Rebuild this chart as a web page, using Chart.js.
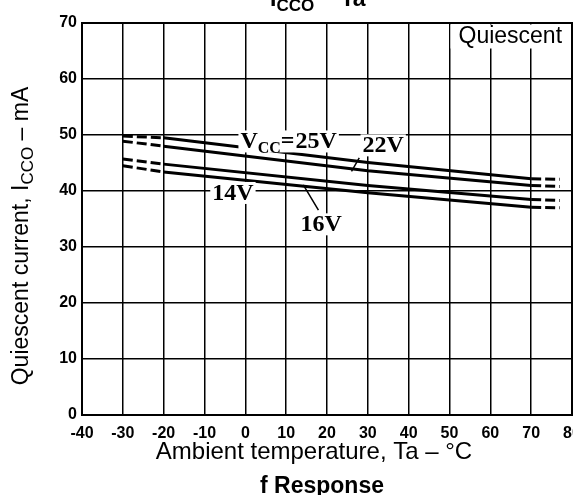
<!DOCTYPE html>
<html>
<head>
<meta charset="utf-8">
<script src="https://cdn.jsdelivr.net/npm/chart.js@4.4.1/dist/chart.umd.min.js"></script>
<style>
  html, body { margin: 0; padding: 0; background: #fff; }
  #wrap { width: 573px; height: 495px; }
</style>
</head>
<body>
<div id="wrap"><canvas id="grafikas" width="573" height="495"></canvas></div>
<script>
// values (Ta in °C, Icco in mA)
var temps = [-30, -20, 30, 70, 77];
var vcc25 = [49.8, 49.5, 45.1, 42.2, 42.1];
var vcc22 = [48.9, 48.0, 43.6, 41.0, 40.8];
var vcc16 = [45.7, 44.8, 41.0, 38.5, 38.3];
var vcc14 = [44.5, 43.4, 39.7, 37.1, 37.0];

var xTicks = [-40, -30, -20, -10, 0, 10, 20, 30, 40, 50, 60, 70, 80];
var yTicks = [0, 10, 20, 30, 40, 50, 60, 70];

function toPoints(values) {
    return values.map(function(v, i) { return { x: temps[i], y: v }; });
}

function serie(values) {
    return {
        data: toPoints(values),
        borderColor: '#000',
        borderWidth: 3,
        pointRadius: 0,
        tension: 0,
        fill: false,
        segment: {
            borderDash: function(c) {
                return (c.p0.parsed.x < -20 || c.p1.parsed.x > 70) ? [10, 4] : undefined;
            }
        }
    };
}

// draws text pieces in a row, some of them as subscripts
function drawParts(ctx, parts, x, y) {
    parts.forEach(function(p) {
        ctx.font = p.font;
        ctx.fillText(p.t, x, y + (p.dy || 0));
        x += ctx.measureText(p.t).width + (p.gap || 0);
    });
}

function partsWidth(ctx, parts) {
    var w = 0;
    parts.forEach(function(p) {
        ctx.font = p.font;
        w += ctx.measureText(p.t).width + (p.gap || 0);
    });
    return w;
}

var extras = {
    id: 'extras',
    beforeDatasetsDraw: function(chart) {
        var ctx = chart.ctx, a = chart.chartArea;
        var xs = chart.scales.x;
        ctx.save();
        // "Quiescent" box
        var bx = xs.getPixelForValue(50) + 1;
        ctx.fillStyle = '#fff';
        ctx.fillRect(bx, a.top + 1.5, a.right - bx - 1, 24);
        ctx.fillStyle = '#000';
        ctx.font = '23px "Liberation Sans", Arial, sans-serif';
        ctx.textBaseline = 'alphabetic';
        ctx.textAlign = 'left';
        ctx.fillText('Quiescent', bx + 8, a.top + 20);
        ctx.restore();
    },
    afterDraw: function(chart) {
        var ctx = chart.ctx, a = chart.chartArea;
        var xs = chart.scales.x, ys = chart.scales.y;
        function px(v) { return xs.getPixelForValue(v); }
        function py(v) { return ys.getPixelForValue(v); }
        ctx.save();

        // frame
        ctx.strokeStyle = '#000';
        ctx.lineWidth = 2;
        ctx.strokeRect(a.left, a.top, a.right - a.left, a.bottom - a.top);

        // curve labels
        var big = 'bold 24px "Liberation Serif", "Times New Roman", serif';
        var sub = 'bold 16px "Liberation Serif", "Times New Roman", serif';
        ctx.textBaseline = 'alphabetic';
        ctx.textAlign = 'left';
        var labels = [
            { x: -1.2, y: 47.6, parts: [{ t: 'V', font: big }, { t: 'CC', font: sub, dy: 5 }, { t: '=', font: big, gap: 1 }, { t: '25V', font: big }] },
            { x: 28.7, y: 46.9, parts: [{ t: '22V', font: big }] },
            { x: -8.1, y: 38.4, parts: [{ t: '14V', font: big }] },
            { x: 13.5, y: 32.8, parts: [{ t: '16V', font: big }] }
        ];
        labels.forEach(function(l) {
            var w = partsWidth(ctx, l.parts);
            ctx.fillStyle = '#fff';
            ctx.fillRect(px(l.x) - 2, py(l.y) - 18, w + 4, 22);
            ctx.fillStyle = '#000';
            drawParts(ctx, l.parts, px(l.x), py(l.y));
        });

        // leader lines
        ctx.lineWidth = 1.5;
        ctx.beginPath();
        ctx.moveTo(px(27.9), py(45.9));
        ctx.lineTo(px(26.0), py(43.5));
        ctx.moveTo(px(14.2), py(41.1));
        ctx.lineTo(px(17.9), py(36.6));
        ctx.stroke();

        // top title, mostly cut off by the canvas edge
        ctx.fillStyle = '#000';
        var tb = 'bold 23px "Liberation Sans", Arial, sans-serif';
        var ts = 'bold 17px "Liberation Sans", Arial, sans-serif';
        drawParts(ctx, [{ t: 'I', font: tb }, { t: 'CCO', font: ts, dy: 5 }, { t: ' \u2212 Ta', font: tb }], 270, 6);

        // x axis title
        ctx.font = '24px "Liberation Sans", Arial, sans-serif';
        ctx.textAlign = 'center';
        ctx.fillText('Ambient temperature, Ta \u2013 \u00b0C', 314, 459);

        // bottom caption
        ctx.font = 'bold 23px "Liberation Sans", Arial, sans-serif';
        ctx.fillText('f Response', 322, 493);

        // y axis title
        ctx.textAlign = 'left';
        var yb = '23px "Liberation Sans", Arial, sans-serif';
        var ysb = '17px "Liberation Sans", Arial, sans-serif';
        var yparts = [{ t: 'Quiescent current, I', font: yb }, { t: 'CCO', font: ysb, dy: 5 }, { t: ' \u2013 mA', font: yb }];
        ctx.translate(28, 236);
        ctx.rotate(-Math.PI / 2);
        var w = partsWidth(ctx, yparts);
        drawParts(ctx, yparts, -w / 2, 0);

        ctx.restore();
    }
};

var ctx = document.getElementById('grafikas').getContext('2d');
var chart = new Chart(ctx, {
    type: 'line',
    data: {
        datasets: [serie(vcc25), serie(vcc22), serie(vcc16), serie(vcc14)]
    },
    options: {
        responsive: false,
        animation: false,
        layout: { padding: { left: 0, top: 23, right: 1, bottom: 0 }, autoPadding: false },
        plugins: { legend: { display: false }, tooltip: { enabled: false } },
        scales: {
            x: {
                type: 'linear',
                min: -40,
                max: 80,
                afterBuildTicks: function(s) { s.ticks = xTicks.map(function(v) { return { value: v }; }); },
                afterFit: function(s) { s.height = 80; s.paddingLeft = 0; s.paddingRight = 0; },
                grid: { color: '#000', lineWidth: 1.5, drawTicks: false },
                border: { color: '#000', width: 2 },
                ticks: {
                    color: '#000',
                    padding: 9,
                    maxRotation: 0,
                    autoSkip: false,
                    font: { family: '"Liberation Sans", Arial, sans-serif', size: 16, weight: 'bold' }
                }
            },
            y: {
                min: 0,
                max: 70,
                afterBuildTicks: function(s) { s.ticks = yTicks.map(function(v) { return { value: v }; }); },
                afterFit: function(s) { s.width = 82; s.paddingTop = 0; s.paddingBottom = 0; },
                grid: { color: '#000', lineWidth: 1.5, drawTicks: false },
                border: { color: '#000', width: 2 },
                ticks: {
                    color: '#000',
                    padding: 5,
                    font: { family: '"Liberation Sans", Arial, sans-serif', size: 16, weight: 'bold' }
                }
            }
        }
    },
    plugins: [extras]
});
</script>
</body>
</html>
